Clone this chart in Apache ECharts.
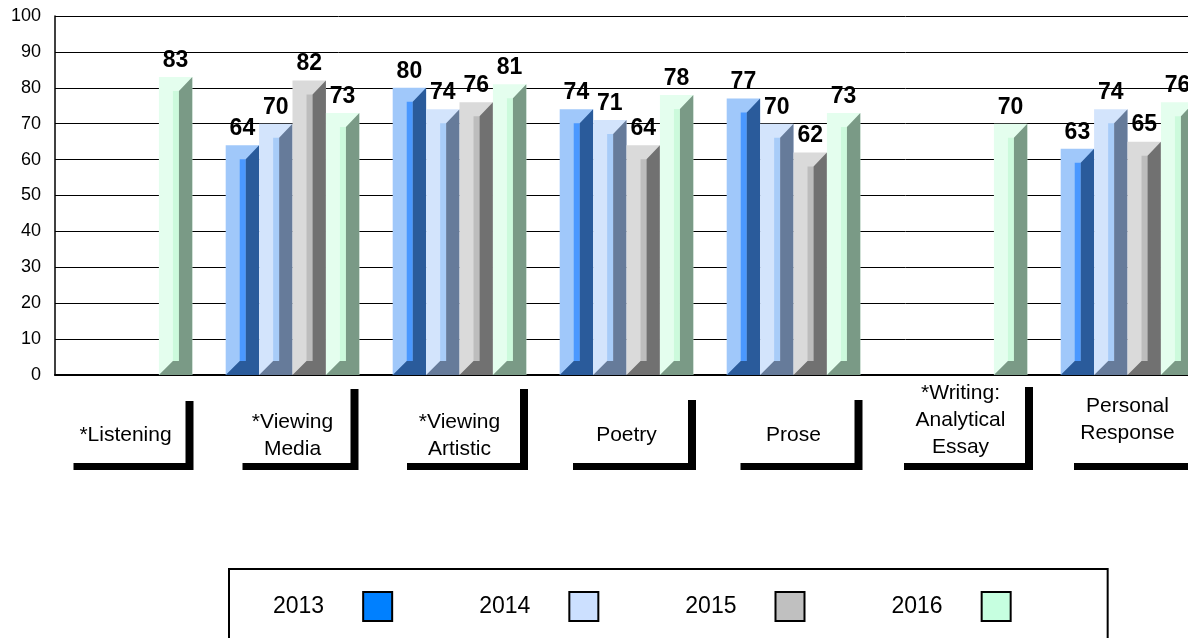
<!DOCTYPE html>
<html><head><meta charset="utf-8">
<script src="https://cdn.jsdelivr.net/npm/echarts@6/dist/echarts.min.js"></script>
<style>html,body{margin:0;padding:0;background:#fff}#c{width:1188px;height:638px}</style>
</head><body><div id="c"></div>
<script>
const categories = ['*Listening', '*Viewing\nMedia', '*Viewing\nArtistic', 'Poetry', 'Prose', '*Writing:\nAnalytical\nEssay', 'Personal\nResponse'];
const years = ['2013', '2014', '2015', '2016'];
const v2013 = [null, 64, 80, 74, 77, null, 63];
const v2014 = [null, 70, 74, 71, 70, null, 74];
const v2015 = [null, 82, 76, 64, 62, null, 65];
const v2016 = [83, 73, 81, 78, 73, 70, 76];
const seriesValues = [v2013, v2014, v2015, v2016];

// label box layout (padding top / bottom and box width), per category label
const labelPadTop = [27.5, 27, 27, 28.5, 28.5, 0, 0];
const labelPadBottom = [14.5, 0, 0, 14.5, 14.5, 2, 16.5];
const labelBoxWidth = [120, 116, 121, 123, 122, 129, 123];

const legendColors = ['#0080FF', '#CCE0FF', '#C0C0C0', '#C6FFE0'];
const faceColors = ['#A0C8FA', '#D3E4FC', '#DADADA', '#E4FEEE'];
const stripColors = ['#4A98FF', '#A8CCF8', '#BDBDBD', '#CCFADC'];
const sideColors = ['#2A5B9B', '#667B9A', '#717171', '#7A9A86'];
const FONT = '"Liberation Sans", Arial, sans-serif';

function makeRender(si) {
  return function (params, api) {
    const ci = api.value(0), val = api.value(1);
    const band = api.size([1, 0])[0];
    const groupW = band * 0.8, bw = groupW / 4;
    const top = api.coord([ci, val]);
    const base = api.coord([ci, 0]);
    const x0 = top[0] - groupW / 2 + si * bw, x1 = x0 + bw;
    const yT = top[1], B = base[1];
    const d = 14, s1 = bw * 0.42, s2 = bw * 0.6;
    return {
      type: 'group',
      children: [
        { type: 'rect', shape: { x: x0, y: yT, width: bw, height: B - yT }, style: { fill: faceColors[si] } },
        { type: 'rect', shape: { x: x0 + s1, y: yT + d, width: s2 - s1, height: B - yT - 2 * d }, style: { fill: stripColors[si] } },
        { type: 'polygon', shape: { points: [[x0, B], [x0 + s1, B - d], [x0 + s2, B - d], [x0 + s2, yT + d], [x1, yT], [x1, B]] }, style: { fill: sideColors[si] } },
        { type: 'text', z2: 100, style: { x: (x0 + x1) / 2, y: yT - 5, text: String(val), align: 'center', verticalAlign: 'bottom', font: 'bold 23px ' + FONT, fill: '#000' } }
      ]
    };
  };
}

const series = years.map((y, si) => ({
  type: 'custom',
  name: y,
  xAxisIndex: 1,
  yAxisIndex: 1,
  itemStyle: { color: legendColors[si] },
  renderItem: makeRender(si),
  encode: { x: 0, y: 1 },
  data: seriesValues[si].map((v, i) => v == null ? null : [i, v]).filter(p => p)
}));

const categoryData = categories.map((c, i) => ({
  value: c,
  textStyle: {
    padding: [labelPadTop[i], 0, labelPadBottom[i], 0], width: labelBoxWidth[i],
    align: 'center', verticalAlign: 'bottom'
  }
}));

const chart = echarts.init(document.getElementById('c'), null, { renderer: 'canvas' });
chart.setOption({
  animation: false,
  backgroundColor: '#fff',
  textStyle: { fontFamily: FONT },
  grid: [
    { left: 55, top: 16, bottom: 263, width: 1200, containLabel: false, outerBoundsMode: 'none' },
    { left: 42, top: 16, bottom: 263, width: 1169, containLabel: false, outerBoundsMode: 'none' }
  ],
  xAxis: [
    { gridIndex: 0, type: 'value', min: 0, max: 1, axisLine: { show: true, onZero: false, lineStyle: { color: '#000', width: 2 } }, axisTick: { show: false }, axisLabel: { show: false }, splitLine: { show: false } },
    { gridIndex: 1, type: 'category', data: categoryData, axisLine: { show: false }, axisTick: { show: false }, splitLine: { show: false },
      axisLabel: {
        interval: 0, color: '#000', fontSize: 21, lineHeight: 27, fontFamily: FONT,
        verticalAlign: 'bottom', align: 'center', margin: 88,
        width: 122, overflow: 'none', hideOverlap: false,
        backgroundColor: '#fff', shadowColor: '#000', shadowBlur: 0, shadowOffsetX: 8, shadowOffsetY: 7
      } }
  ],
  yAxis: [
    { gridIndex: 0, type: 'value', min: 0, max: 100, interval: 10,
      axisLine: { show: true, lineStyle: { color: '#000', width: 1.5 } }, axisTick: { show: false },
      axisLabel: { color: '#000', fontSize: 18, margin: 14, fontFamily: FONT },
      splitLine: { show: true, lineStyle: { color: '#000', width: 1 } } },
    { gridIndex: 1, type: 'value', min: 0, max: 100, interval: 10, show: false }
  ],
  legend: {
    left: 229, top: 569,
    orient: 'horizontal',
    align: 'right',
    icon: 'rect',
    itemWidth: 29, itemHeight: 29, itemGap: 86,
    padding: [22, 96, 40, 44],
    borderColor: '#000', borderWidth: 2,
    itemStyle: { borderColor: '#000', borderWidth: 2 },
    textStyle: { color: '#000', fontSize: 23, fontFamily: FONT, padding: [0, 34, 0, 0] },
    data: years.map((y, i) => ({ name: y, itemStyle: { color: legendColors[i], borderColor: '#000', borderWidth: 2 } }))
  },
  series: series
});
</script>
</body></html>
